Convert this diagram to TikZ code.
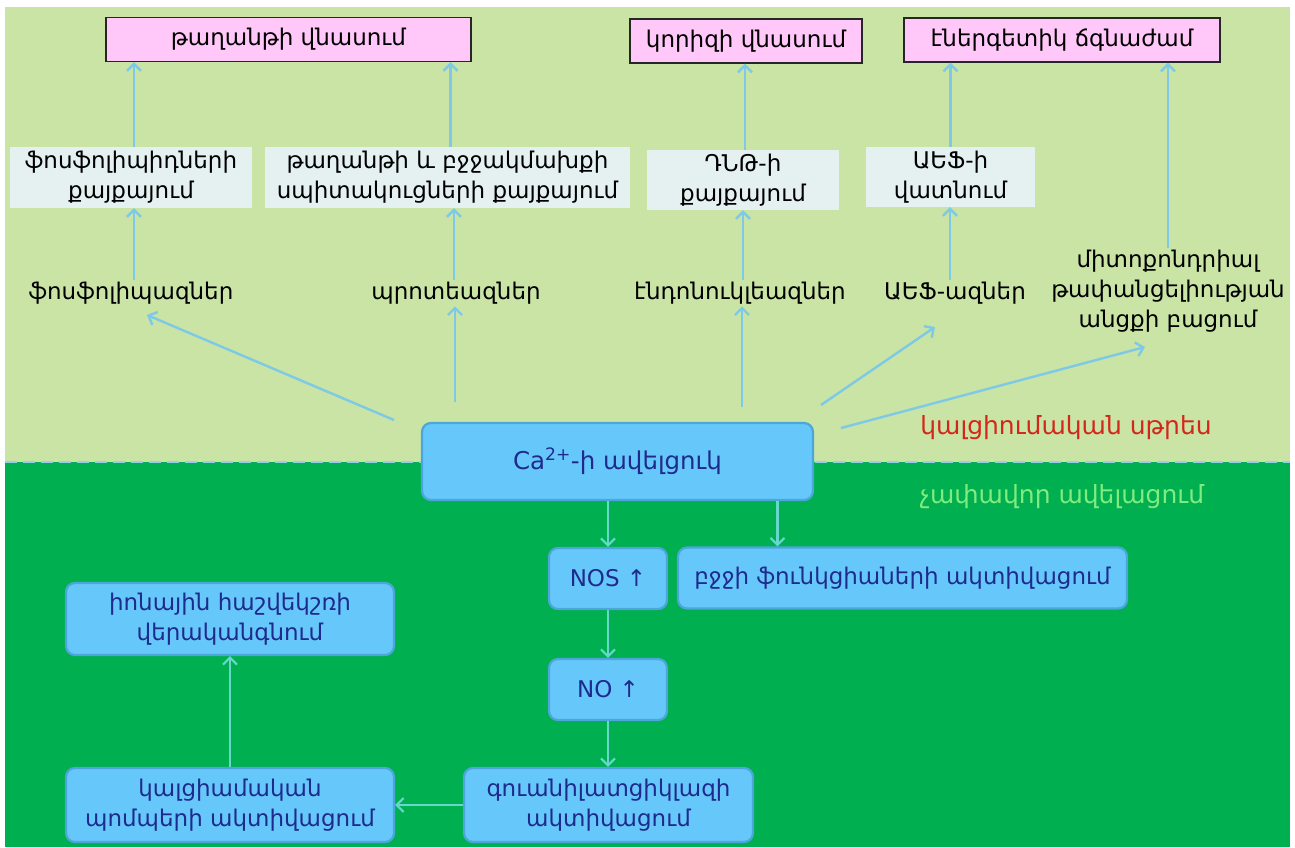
\documentclass[tikz,border=0pt]{standalone}
\usepackage{fontspec}
\setmainfont{DejaVu Sans}
\usetikzlibrary{arrows.meta}
\definecolor{lgreen}{HTML}{C9E4A5}
\definecolor{dgreen}{HTML}{00AF4F}
\definecolor{pinkfill}{HTML}{FFC8F8}
\definecolor{palefill}{HTML}{E4F1F0}
\definecolor{arrowblue}{HTML}{7DC9E6}
\definecolor{arrowcyan}{HTML}{66D8CB}
\definecolor{boxblue}{HTML}{66C8FA}
\definecolor{boxedge}{HTML}{4CA6DA}
\definecolor{navy}{HTML}{1E2A8C}
\definecolor{stressred}{HTML}{D4271B}
\definecolor{modgreen}{HTML}{80EC80}
\definecolor{dashblue}{HTML}{8ED3E8}
\tikzset{
  pinkbox/.style={draw=black!85, line width=1.3pt, fill=pinkfill, inner sep=0pt, minimum height=44pt, text=black, font=\fontsize{23}{30}\selectfont},
  palebox/.style={fill=palefill, inner sep=0pt, align=center, text=black},
  plain/.style={align=center, text=black, inner sep=2pt},
  bluebox/.style={draw=boxedge, line width=2.2pt, fill=boxblue, rounded corners=9pt, inner sep=0pt, text=navy, align=center},
  uparrow/.style={draw=arrowblue, line width=2.4pt, -{Straight Barb[length=7pt,width=14pt]}},
  lowarrow/.style={draw=arrowcyan, line width=2.2pt, -{Straight Barb[length=7pt,width=14pt]}},
}
\begin{document}
\begin{tikzpicture}[x=1pt,y=-1pt, font=\fontsize{23}{30}\selectfont]
\useasboundingbox (0,0) rectangle (1295,847);
\fill[white] (0,0) rectangle (1295,847);
\fill[lgreen] (5,7) rectangle (1290,462);
\fill[dgreen] (5,462) rectangle (1290,847);
\draw[dashblue, line width=2.5pt, dash pattern=on 12pt off 6pt] (5,462) -- (1290,462);

% top result boxes
\node[pinkbox, minimum width=365pt] (B1) at (288.5,39.5) {թաղանթի վնասում};
\node[pinkbox, minimum width=232pt] (B2) at (746,41) {կորիզի վնասում};
\node[pinkbox, minimum width=316pt] (B3) at (1062,40) {էներգետիկ ճգնաժամ};

% pale boxes
\node[palebox, minimum width=242pt, minimum height=61pt] (L1) at (131,177.5) {ֆոսֆոլիպիդների\\քայքայում};
\node[palebox, minimum width=365pt, minimum height=61pt] (L2) at (447.5,177.5) {թաղանթի և բջջակմախքի\\սպիտակուցների քայքայում};
\node[palebox, minimum width=192pt, minimum height=60pt] (L3) at (743,180) {ԴՆԹ-ի\\քայքայում};
\node[palebox, minimum width=169pt, minimum height=60pt] (L4) at (950.5,177) {ԱԵՖ-ի\\վատնում};

% enzymes
\node[plain] (T1) at (131,293) {ֆոսֆոլիպազներ};
\node[plain] (T2) at (456,293) {պրոտեազներ};
\node[plain] (T3) at (740,293) {էնդոնուկլեազներ};
\node[plain] (T4) at (955,293) {ԱԵՖ-ազներ};
\node[plain] (T5) at (1168,291) {միտոքոնդրիալ\\թափանցելիության\\անցքի բացում};

\node[text=stressred, font=\fontsize{25}{30}\selectfont] (red) at (1066,428) {կալցիումական սթրես};
\node[text=modgreen, font=\fontsize{25}{30}\selectfont] (grn) at (1062,497) {չափավոր ավելացում};

% central box
\node[bluebox, minimum width=391pt, minimum height=77pt, font=\fontsize{24.5}{30}\selectfont] (Ca) at (617.5,461.5) {Ca\textsuperscript{2+}-ի ավելցուկ};

% lower boxes
\node[bluebox, minimum width=118pt, minimum height=61pt] (NOS) at (608,578.5) {NOS ↑};
\node[bluebox, minimum width=449pt, minimum height=61pt] (BJ) at (902.5,578) {բջջի ֆունկցիաների ակտիվացում};
\node[bluebox, minimum width=118pt, minimum height=61pt] (NO) at (608,689.5) {NO ↑};
\node[bluebox, minimum width=289pt, minimum height=74pt] (GU) at (608.5,805) {գուանիլատցիկլազի\\ակտիվացում};
\node[bluebox, minimum width=328pt, minimum height=74pt] (PU) at (230,805) {կալցիամական\\պոմպերի ակտիվացում};
\node[bluebox, minimum width=328pt, minimum height=72pt] (IO) at (230,619) {իոնային հաշվեկշռի\\վերականգնում};

% upper arrows
\draw[uparrow] ([xshift=3pt]L1.north) -- ([xshift=3pt]L1.north |- B1.south);
\draw[uparrow] ([xshift=3pt]L2.north) -- ([xshift=3pt]L2.north |- B1.south);
\draw[uparrow] ([xshift=2pt]L3.north) -- ([xshift=2pt]L3.north |- B2.south);
\draw[uparrow] (L4.north) -- (L4.north |- B3.south);
\draw[uparrow] (T5.north) -- (T5.north |- B3.south);
\draw[uparrow] ([xshift=3pt]T1.north) -- ([xshift=3pt]T1.north |- L1.south);
\draw[uparrow] ([xshift=-2pt]T2.north) -- ([xshift=-2pt]T2.north |- L2.south);
\draw[uparrow] ([xshift=3pt]T3.north) -- ([xshift=3pt]T3.north |- L3.south);
\draw[uparrow] ([xshift=-5pt]T4.north) -- ([xshift=-5pt]T4.north |- L4.south);

% arrows from calcium overload
\coordinate (s1) at (394,420);
\coordinate (e1) at (147,315);
\coordinate (s2) at (455,402);
\coordinate (s3) at (742,407);
\coordinate (s4) at (821,405);
\coordinate (e4) at (935,327);
\coordinate (s5) at (841,428);
\coordinate (e5) at (1145,347);
\draw[uparrow] (s1) -- (e1);
\draw[uparrow] (s2) -- (s2 |- T2.south);
\draw[uparrow] (s3) -- (s3 |- T3.south);
\draw[uparrow] (s4) -- (e4);
\draw[uparrow] (s5) -- (e5);

% lower arrows
\draw[lowarrow] (NOS.north |- Ca.south) -- (NOS.north);
\draw[lowarrow] ([xshift=160pt]Ca.south) -- ([xshift=160pt]Ca.south |- BJ.north);
\draw[lowarrow] (NOS.south) -- (NO.north);
\draw[lowarrow] (NO.south) -- (NO.south |- GU.north);
\draw[lowarrow] (GU.west) -- (PU.east);
\draw[lowarrow] (PU.north) -- (IO.south);
\end{tikzpicture}
\end{document}
